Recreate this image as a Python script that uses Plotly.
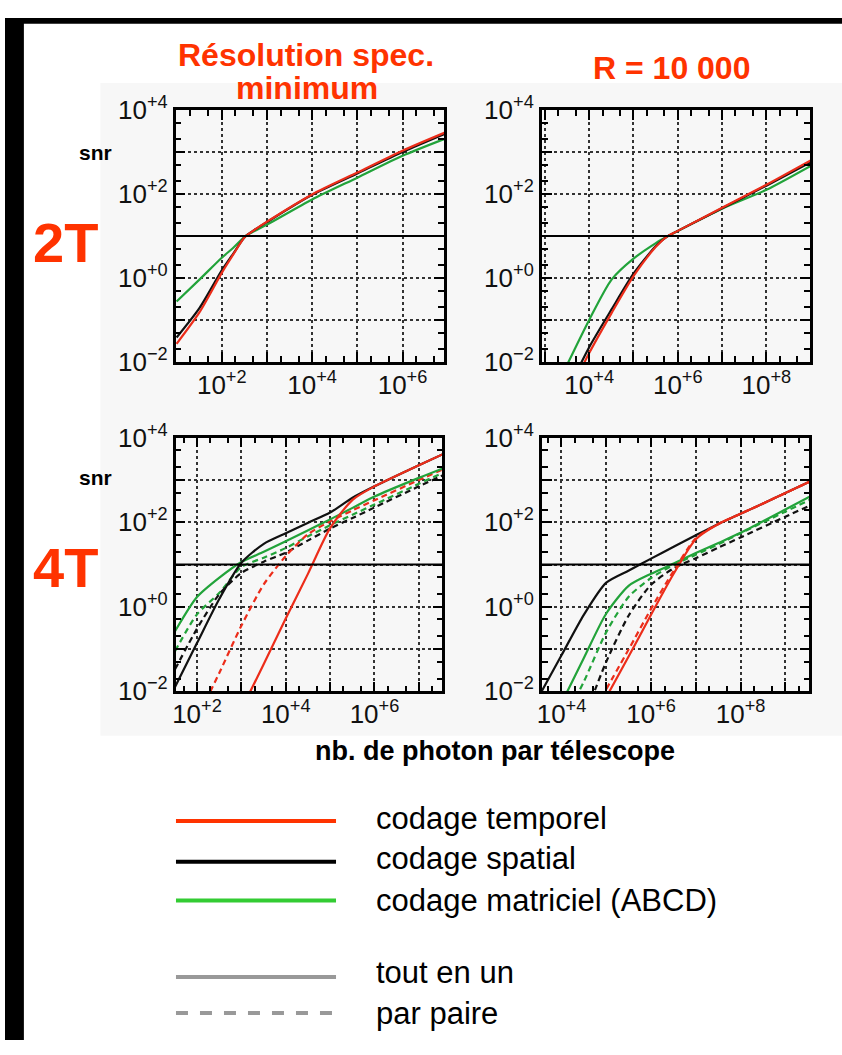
import plotly.graph_objects as go

# ------------------------------------------------------------------ data
SNR_THRESHOLD = 10

# 2T, minimum spectral resolution (top-left)
x_2t_min = [10, 32, 100, 180, 320, 560, 1e3, 1e4, 1e5, 1e6, 1e7]
snr_2t_min_temporel = [0.027, 0.151, 1.32, 3.63, 9.33, 14.5, 21.9, 97.7, 324, 1072, 3090]
snr_2t_min_spatial = [0.038, 0.19, 1.51, 3.8, 9.33, 14.5, 21.4, 95.5, 309, 1000, 2884]
snr_2t_min_matriciel = [0.275, 0.912, 3.02, 5.25, 9.55, 13.5, 18.6, 74.1, 245, 813, 2188]

# 2T, R = 10 000 (top-right)
x_2t_r = [3200, 1e4, 3.2e4, 1e5, 3.2e5, 5.6e5, 1e6, 1e7, 1e8, 1e9]
snr_2t_r_temporel = [1.45e-3, 1.62e-2, 0.145, 1.10, 5.5, 9.55, 13.2, 46.8, 166, 631]
snr_2t_r_spatial = [2.0e-3, 2.24e-2, 0.178, 1.26, 5.75, 9.55, 13.2, 45.7, 158, 575]
snr_2t_r_matriciel = [8.7e-3, 0.1, 0.912, 2.88, 6.76, 9.55, 13.2, 44.7, 126, 468]

# 4T, minimum spectral resolution (bottom-left)
x_4t_min = [32, 100, 320, 1e3, 3.2e3, 1e4, 3.2e4, 1e5, 3.2e5, 1e6, 1e7, 4e7]
snr_4t_min_temporel = [None, None, None, 3.7e-3, 4.4e-2, 0.525, 6.17, 72.4, 339, 708, 2239, 4365]
snr_4t_min_temporel_paire = [None, 2.2e-3, 2.75e-2, 0.355, 3.39, 15.8, 52.5, 105, 191, 331, 1000, 1905]
snr_4t_min_spatial = [0.0126, 0.138, 1.55, 11.0, 30.9, 55.0, 97.7, 170, 380, 708, 2239, 4365]
snr_4t_min_spatial_paire = [0.0331, 0.302, 2.0, 6.3, 11.7, 19.1, 37.2, 70.8, 126, 224, 708, 1380]
snr_4t_min_matriciel = [0.263, 1.70, 4.90, 11.5, 20.0, 35.5, 64.6, 117, 219, 407, 1122, 1995]
snr_4t_min_matriciel_paire = [0.089, 0.661, 2.14, 8.71, 14.5, 24.5, 46.8, 85.1, 151, 263, 813, 1585]

# 4T, R = 10 000 (bottom-right)
x_4t_r = [3200, 1e4, 3.2e4, 1e5, 3.2e5, 1e6, 3.2e6, 1e7, 3.2e7, 1e8, 1e9, 4e9]
snr_4t_r_temporel = [None, None, None, 7.2e-3, 6.8e-2, 0.646, 6.03, 39.8, 91.2, 158, 490, 977]
snr_4t_r_temporel_paire = [None, None, None, 1.12e-2, 0.1, 0.891, 7.08, 41.7, 91.2, 158, 490, 977]
snr_4t_r_spatial = [7.9e-3, 7.1e-2, 0.661, 3.72, 7.24, 13.8, 26.3, 49.0, 91.2, 158, 490, 977]
snr_4t_r_spatial_paire = [None, None, 2.24e-3, 0.05, 0.631, 3.31, 8.13, 14.1, 25.1, 43.7, 135, 263]
snr_4t_r_matriciel = [None, 5.2e-3, 6.3e-2, 0.692, 3.16, 6.03, 10.5, 18.6, 32.4, 56.2, 200, 437]
snr_4t_r_matriciel_paire = [None, 1.6e-3, 1.74e-2, 0.251, 1.74, 4.79, 9.77, 17.0, 30.2, 55.0, 178, 363]

# decade ticks (gridlines) and labelled ticks
y_decades = [1e-2, 1e-1, 1, 10, 100, 1e3, 1e4]
y_labelvals = [1e-2, 1, 100, 1e4]
y_labeltext = ["10<sup>\u22122</sup>", "10<sup>+0</sup>", "10<sup>+2</sup>", "10<sup>+4</sup>"]
x_decades_min = [10, 100, 1e3, 1e4, 1e5, 1e6, 1e7]
x_labelvals_min = [100, 1e4, 1e6]
x_labeltext_min = ["10<sup>+2</sup>", "10<sup>+4</sup>", "10<sup>+6</sup>"]
x_decades_r = [1e3, 1e4, 1e5, 1e6, 1e7, 1e8, 1e9]
x_labelvals_r = [1e4, 1e6, 1e8]
x_labeltext_r = ["10<sup>+4</sup>", "10<sup>+6</sup>", "10<sup>+8</sup>"]

legend_codings = ["codage temporel", "codage spatial", "codage matriciel (ABCD)"]
legend_modes = ["tout en un", "par paire"]

# ------------------------------------------------------------------ style
W, H = 842, 1055
FONT = "Liberation Sans, Arial, Helvetica, sans-serif"
RED = "#ec2d1a"
GREEN = "#22a33a"
BLACK = "#111111"
TITLE_RED = "#ff3300"


def px(x):
    return x / W


def py(y):
    return 1 - y / H


panels = [
    dict(ax="", ov="5", dom_x=(171.7, 441.7), dom_y=(95, 355), xr=[0.98, 6.92],
         tv=x_decades_min, lv=x_labelvals_min, lt=x_labeltext_min, x=x_2t_min,
         series=[(snr_2t_min_matriciel, GREEN, "solid"),
                 (snr_2t_min_spatial, BLACK, "solid"),
                 (snr_2t_min_temporel, RED, "solid")]),
    dict(ax="2", ov="6", dom_x=(540, 810), dom_y=(95, 355), xr=[2.93, 8.99],
         tv=x_decades_r, lv=x_labelvals_r, lt=x_labeltext_r, x=x_2t_r,
         series=[(snr_2t_r_matriciel, GREEN, "solid"),
                 (snr_2t_r_spatial, BLACK, "solid"),
                 (snr_2t_r_temporel, RED, "solid")]),
    dict(ax="3", ov="7", dom_x=(171.7, 440), dom_y=(433.3, 695), xr=[1.52, 7.53],
         tv=x_decades_min, lv=x_labelvals_min, lt=x_labeltext_min, x=x_4t_min,
         series=[(snr_4t_min_matriciel_paire, GREEN, "6px,4px"),
                 (snr_4t_min_spatial_paire, BLACK, "6px,4px"),
                 (snr_4t_min_temporel_paire, RED, "6px,4px"),
                 (snr_4t_min_matriciel, GREEN, "solid"),
                 (snr_4t_min_spatial, BLACK, "solid"),
                 (snr_4t_min_temporel, RED, "solid")]),
    dict(ax="4", ov="8", dom_x=(540, 809.3), dom_y=(433.3, 695), xr=[3.56, 9.54],
         tv=x_decades_r, lv=x_labelvals_r, lt=x_labeltext_r, x=x_4t_r,
         series=[(snr_4t_r_matriciel_paire, GREEN, "6px,4px"),
                 (snr_4t_r_spatial_paire, BLACK, "6px,4px"),
                 (snr_4t_r_matriciel, GREEN, "solid"),
                 (snr_4t_r_spatial, BLACK, "solid"),
                 (snr_4t_r_temporel_paire, RED, "6px,4px"),
                 (snr_4t_r_temporel, RED, "solid")]),
]

fig = go.Figure()
layout = {}
tickfont = dict(family=FONT, size=26, color="#111")
axis_frame = dict(
    type="log", showline=True, linecolor="black", linewidth=2.5, mirror="allticks",
    ticks="inside", ticklen=10, tickwidth=2, tickcolor="black", showticklabels=False,
    showgrid=True, gridcolor="#333333", gridwidth=1.5, griddash="3px,3px",
    zeroline=False,
    minor=dict(ticks="inside", ticklen=6, tickwidth=1.5, tickcolor="black",
               dtick="D2", showgrid=False),
    fixedrange=True, tickmode="array",
)
axis_labels = dict(
    type="log", showline=False, ticks="", showgrid=False, zeroline=False,
    tickfont=tickfont, fixedrange=True, tickmode="array",
)

for p in panels:
    a, o = p["ax"], p["ov"]
    xa, ya = "x" + a, "y" + a
    xo, yo = "x" + o, "y" + o
    layout["xaxis" + a] = dict(
        axis_frame, domain=[px(p["dom_x"][0]), px(p["dom_x"][1])], range=p["xr"],
        anchor=ya, tickvals=p["tv"])
    layout["yaxis" + a] = dict(
        axis_frame, domain=[py(p["dom_y"][1]), py(p["dom_y"][0])], range=[-2, 4],
        anchor=xa, tickvals=y_decades)
    # label-only overlay axes
    layout["xaxis" + o] = dict(
        axis_labels, overlaying=xa, anchor=yo, side="bottom", range=p["xr"],
        tickvals=p["lv"], ticktext=p["lt"], ticklabelstandoff=5)
    layout["yaxis" + o] = dict(
        axis_labels, overlaying=ya, anchor=xo, side="left", range=[-2, 4],
        tickvals=y_labelvals, ticktext=y_labeltext, ticklabelstandoff=7)
    # threshold line (snr = 10)
    fig.add_trace(go.Scatter(x=[p["tv"][0] / 100, p["tv"][-1] * 100],
                             y=[SNR_THRESHOLD, SNR_THRESHOLD], mode="lines",
                             line=dict(color="black", width=2), xaxis=xo, yaxis=yo,
                             showlegend=False, hoverinfo="skip"))
    for ys, col, dash in p["series"]:
        fig.add_trace(go.Scatter(x=p["x"], y=ys, mode="lines",
                                 line=dict(color=col, width=2.2, dash=dash,
                                           shape="spline", smoothing=0.7),
                                 xaxis=xa, yaxis=ya, showlegend=False))

shapes = [
    dict(type="rect", xref="paper", yref="paper", x0=px(96), x1=1, y0=py(741), y1=py(67),
         fillcolor="#f7f7f7", line=dict(width=0), layer="below"),
    dict(type="rect", xref="paper", yref="paper", x0=0, x1=px(19), y0=0, y1=1,
         fillcolor="black", line=dict(width=0), layer="above"),
    dict(type="rect", xref="paper", yref="paper", x0=0, x1=1, y0=py(6), y1=1,
         fillcolor="black", line=dict(width=0), layer="above"),
]

# legend (drawn manually)
legend_rows = [
    (legend_codings[0], "#ff3300", "solid", 829, 826),
    (legend_codings[1], "#000000", "solid", 871, 868),
    (legend_codings[2], "#33cc33", "solid", 911, 911),
    (legend_modes[0], "#999999", "solid", 990, 985),
    (legend_modes[1], "#999999", "dash", 1027, 1028),
]
annotations = []
for label, col, dash, yl, yt in legend_rows:
    shapes.append(dict(type="line", xref="paper", yref="paper", x0=px(172), x1=px(333),
                       y0=py(yl), y1=py(yl), line=dict(color=col, width=4, dash=dash)))
    annotations.append(dict(text=label, xref="paper", yref="paper", x=px(371), y=py(yt),
                            xanchor="left", yanchor="middle", showarrow=False,
                            font=dict(family=FONT, size=31, color="black")))

title_font = dict(family=FONT, size=32, color=TITLE_RED)
annotations += [
    dict(text="<b>Résolution spec.</b>", x=px(303), y=py(38), font=title_font),
    dict(text="<b>minimum</b>", x=px(304), y=py(72), font=title_font),
    dict(text="<b>R = 10 000</b>", x=px(670), y=py(52), font=title_font),
    dict(text="<b>2T</b>", x=px(61), y=py(232), font=dict(family=FONT, size=56, color=TITLE_RED)),
    dict(text="<b>4T</b>", x=px(61), y=py(567), font=dict(family=FONT, size=56, color=TITLE_RED)),
    dict(text="<b>snr</b>", x=px(91), y=py(139), font=dict(family=FONT, size=21, color="black")),
    dict(text="<b>snr</b>", x=px(91), y=py(474), font=dict(family=FONT, size=21, color="black")),
    dict(text="<b>nb. de photon par télescope</b>", x=px(493), y=py(757),
         font=dict(family=FONT, size=27, color="black")),
]
for an in annotations[-8:]:
    an.update(xref="paper", yref="paper", xanchor="center", yanchor="middle", showarrow=False)

fig.update_layout(
    width=W, height=H, margin=dict(l=0, r=0, t=0, b=0),
    paper_bgcolor="white", plot_bgcolor="white",
    shapes=shapes, annotations=annotations, showlegend=False,
    font=dict(family=FONT),
    **layout,
)

post = (
    "var b=document.body,h=document.documentElement;"
    "b.style.margin='0';b.style.padding='0';b.style.overflow='hidden';"
    "h.style.overflow='hidden';h.style.margin='0';"
)

fig.write_html("out.html", config={"displayModeBar": False}, post_script=post)
